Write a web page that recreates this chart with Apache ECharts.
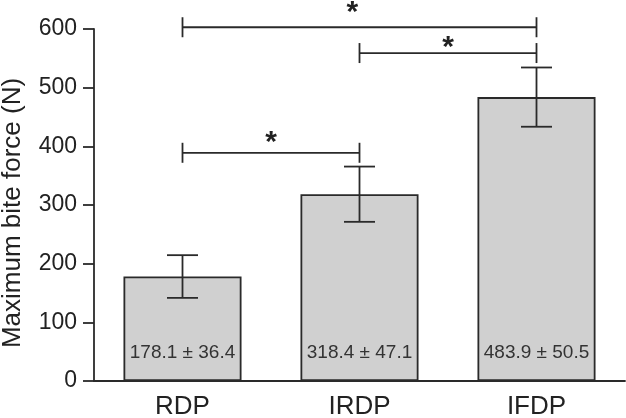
<!DOCTYPE html>
<html><head><meta charset="utf-8">
<script src="https://cdn.jsdelivr.net/npm/echarts@6/dist/echarts.min.js"></script>
<style>html,body{margin:0;padding:0;background:#fff}#c{width:626px;height:418px}</style>
</head><body><div id="c"></div>
<script>
const categories = ['RDP', 'IRDP', 'IFDP'];
const means = [178.1, 318.4, 483.9];
const sds = [36.4, 47.1, 50.5];
const bracketFrom = [0, 1, 0];
const bracketTo = [2, 2, 1];
const bracketY = [603, 559, 389];
const bracketMark = ['*', '*', '*'];
const markY = [638, 578, 416];
const markT = [0.48, 0.5, 0.5];
const yMin = 0, yMax = 600, yInterval = 100;
const yTitle = 'Maximum bite force (N)';

const font = '"Liberation Sans", Arial, sans-serif';
const ink = '#2a2a2a';
const chart = echarts.init(document.getElementById('c'));

const errData = means.map((m, i) => [i, m - sds[i], m + sds[i]]);
const brData = bracketY.map((y, i) => [bracketFrom[i], bracketTo[i], y, i, markY[i]]);

chart.setOption({
  animation: false,
  grid: { left: 94, right: 1, top: 29, bottom: 37, containLabel: false, outerBoundsMode: 'none' },
  xAxis: {
    type: 'category', data: categories,
    axisLine: { lineStyle: { color: ink, width: 1.8 } },
    axisTick: { alignWithLabel: true, length: 11, lineStyle: { color: ink, width: 1.8 } },
    axisLabel: { color: '#222', fontSize: 26, fontFamily: font, margin: 13 }
  },
  yAxis: {
    type: 'value', min: yMin, max: yMax, interval: yInterval,
    name: yTitle, nameLocation: 'middle', nameGap: 68,
    nameTextStyle: { color: '#222', fontSize: 26, fontFamily: font, padding: [0, 16, 0, 0] },
    axisLine: { show: true, lineStyle: { color: ink, width: 1.8 } },
    axisTick: { show: true, length: 11, lineStyle: { color: ink, width: 1.8 } },
    axisLabel: { color: '#222', fontSize: 23, fontFamily: font, margin: 17 },
    splitLine: { show: false }
  },
  series: [
    {
      type: 'bar', data: means, barWidth: '66.7%',
      itemStyle: { color: '#d0d0d0', borderColor: ink, borderWidth: 1.8 },
      label: {
        show: true, position: 'insideBottom', distance: 19,
        formatter: p => means[p.dataIndex].toFixed(1) + ' ± ' + sds[p.dataIndex].toFixed(1),
        color: '#333', fontSize: 19, fontFamily: font
      }
    },
    {
      type: 'custom', data: errData, z: 5,
      renderItem: (params, api) => {
        const lo = api.coord([api.value(0), api.value(1)]);
        const hi = api.coord([api.value(0), api.value(2)]);
        const hw = 15.5;
        const st = { stroke: ink, lineWidth: 1.8 };
        return { type: 'group', children: [
          { type: 'line', shape: { x1: lo[0], y1: lo[1], x2: hi[0], y2: hi[1] }, style: st },
          { type: 'line', shape: { x1: lo[0] - hw, y1: lo[1], x2: lo[0] + hw, y2: lo[1] }, style: st },
          { type: 'line', shape: { x1: hi[0] - hw, y1: hi[1], x2: hi[0] + hw, y2: hi[1] }, style: st }
        ]};
      }
    },
    {
      type: 'custom', data: brData, z: 5,
      renderItem: (params, api) => {
        const a = api.coord([api.value(0), api.value(2)]);
        const b = api.coord([api.value(1), api.value(2)]);
        const i = api.value(3);
        const m = api.coord([api.value(0), api.value(4)]);
        const st = { stroke: ink, lineWidth: 1.8 };
        const h = 10;
        return { type: 'group', children: [
          { type: 'line', shape: { x1: a[0], y1: a[1], x2: b[0], y2: b[1] }, style: st },
          { type: 'line', shape: { x1: a[0], y1: a[1] - h, x2: a[0], y2: a[1] + h }, style: st },
          { type: 'line', shape: { x1: b[0], y1: b[1] - h, x2: b[0], y2: b[1] + h }, style: st },
          { type: 'text', style: { x: a[0] + markT[i] * (b[0] - a[0]), y: m[1] + 6, text: bracketMark[i],
            fill: '#222', font: 'bold 30px ' + font, textAlign: 'center', textVerticalAlign: 'middle' } }
        ]};
      }
    }
  ]
});
</script></body></html>
